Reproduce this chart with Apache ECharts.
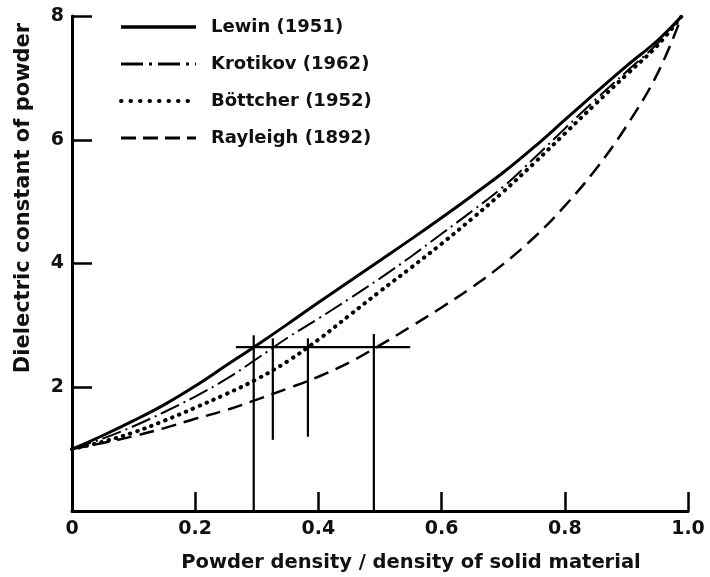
<!DOCTYPE html>
<html>
<head>
<meta charset="utf-8">
<script src="https://cdn.jsdelivr.net/npm/echarts@6/dist/echarts.min.js"></script>
<style>html,body{margin:0;padding:0;background:#fff;}#c{width:710px;height:577px;}</style>
</head>
<body>
<div id="c"></div>
<script>
// Data
var xs        = [0, 0.05, 0.1, 0.15, 0.2, 0.25, 0.3, 0.35, 0.4, 0.45, 0.5, 0.55, 0.6, 0.65, 0.7, 0.75, 0.8, 0.85, 0.9, 0.95, 0.99];
var lewin     = [1.0, 1.22, 1.46, 1.72, 2.02, 2.35, 2.68, 3.02, 3.37, 3.71, 4.05, 4.39, 4.74, 5.10, 5.47, 5.88, 6.32, 6.76, 7.19, 7.60, 8.0];
var krotikov  = [1.0, 1.17, 1.37, 1.60, 1.85, 2.13, 2.46, 2.80, 3.11, 3.43, 3.76, 4.11, 4.48, 4.85, 5.24, 5.70, 6.18, 6.65, 7.10, 7.55, 8.0];
var bottcher  = [1.0, 1.12, 1.27, 1.46, 1.67, 1.89, 2.13, 2.42, 2.77, 3.16, 3.55, 3.93, 4.32, 4.73, 5.16, 5.62, 6.10, 6.58, 7.05, 7.52, 8.0];
var rayleigh  = [1.0, 1.10, 1.21, 1.34, 1.49, 1.63, 1.80, 1.98, 2.17, 2.40, 2.68, 2.98, 3.29, 3.62, 3.99, 4.42, 4.93, 5.52, 6.22, 7.06, 8.0];
var seriesNames = ['Lewin (1951)', 'Krotikov (1962)', 'B\u00f6ttcher (1952)', 'Rayleigh (1892)'];
var xTitle = 'Powder density / density of solid material';
var yTitle = 'Dielectric constant of powder';
// vertical marker lines and the horizontal reference line
var markX      = [0.295, 0.326, 0.383, 0.49];
var markBottom = [0, 1.15, 1.2, 0];
var markTop    = [2.84, 2.79, 2.79, 2.86];
var crossY     = 2.65;
var crossFrom  = 0.266;
var crossTo    = 0.549;

function pairs(ys){ return xs.map(function(x,i){ return [x, ys[i]]; }); }

var FONT = 'DejaVu Sans';
var styles = [
  {color:'#000', width:3, type:'solid'},
  {color:'#000', width:2, type:[20,5,2,5]},
  {color:'#000', width:4, type:[0.5,7], cap:'round'},
  {color:'#000', width:2.5, type:[15,8]}
];
var legendStyles = [
  {color:'#000', width:3.5, type:'solid'},
  {color:'#000', width:3, type:[22,6,3,6]},
  {color:'#000', width:4, type:[0.5,9], cap:'round'},
  {color:'#000', width:3, type:[15,7]}
];
var curves = [lewin, krotikov, bottcher, rayleigh];
var series = curves.map(function(c,i){
  return {name: seriesNames[i], type:'line', data: pairs(c), smooth:0.4, showSymbol:false, symbol:'none',
    lineStyle: styles[i], itemStyle:{color:'#000'}};
});
markX.forEach(function(x,i){
  series.push({type:'line', data:[[x, markBottom[i]],[x, markTop[i]]], symbol:'none', silent:true,
    lineStyle:{color:'#000', width:2.2}});
});
series.push({type:'line', data:[[crossFrom, crossY],[crossTo, crossY]], symbol:'none', silent:true,
  lineStyle:{color:'#000', width:2.2}});

var chart = echarts.init(document.getElementById('c'), null, {renderer:'canvas'});
chart.setOption({
  animation:false,
  backgroundColor:'#fff',
  grid:{left:72, right:22, top:16, bottom:66, containLabel:false},
  legend:{
    data: seriesNames.map(function(n,i){ return {name:n, lineStyle: legendStyles[i]}; }),
    orient:'vertical', left:114, top:12,
    itemWidth:75, itemHeight:14, itemGap:17,
    itemStyle:{color:'rgba(0,0,0,0)', borderColor:'rgba(0,0,0,0)', borderWidth:0, opacity:0},
    textStyle:{fontFamily:FONT, fontWeight:'bold', fontSize:18, color:'#111', lineHeight:20, padding:[0,0,0,10]}
  },
  graphic:[
    {type:'text', x:411, y:563, silent:true,
     style:{text:xTitle, fontFamily:FONT, fontWeight:'bold', fontSize:19.5, fill:'#111', align:'center', verticalAlign:'middle'}},
    {type:'text', x:24, y:198, rotation:Math.PI/2, silent:true,
     style:{text:yTitle, fontFamily:FONT, fontWeight:'bold', fontSize:21, fill:'#111', align:'center', verticalAlign:'middle'}}
  ],
  xAxis:{
    type:'value', min:0, max:1, interval:0.2,
    axisLine:{show:true, lineStyle:{color:'#000', width:3}},
    axisTick:{show:true, inside:true, length:19, lineStyle:{color:'#000', width:2.5}},
    axisLabel:{fontFamily:FONT, fontWeight:'bold', fontSize:19, color:'#111', margin:9,
      formatter:function(v){ return v===0 ? '0' : v.toFixed(1); }},
    splitLine:{show:false}
  },
  yAxis:{
    type:'value', min:0, max:8, interval:2,
    axisLine:{show:true, lineStyle:{color:'#000', width:3}},
    axisTick:{show:true, inside:true, length:20, lineStyle:{color:'#000', width:2.5}},
    axisLabel:{fontFamily:FONT, fontWeight:'bold', fontSize:19, color:'#111', margin:8,
      formatter:function(v){ return v===0 ? '' : String(v); }},
    splitLine:{show:false}
  },
  series: series
});
</script>
</body>
</html>
